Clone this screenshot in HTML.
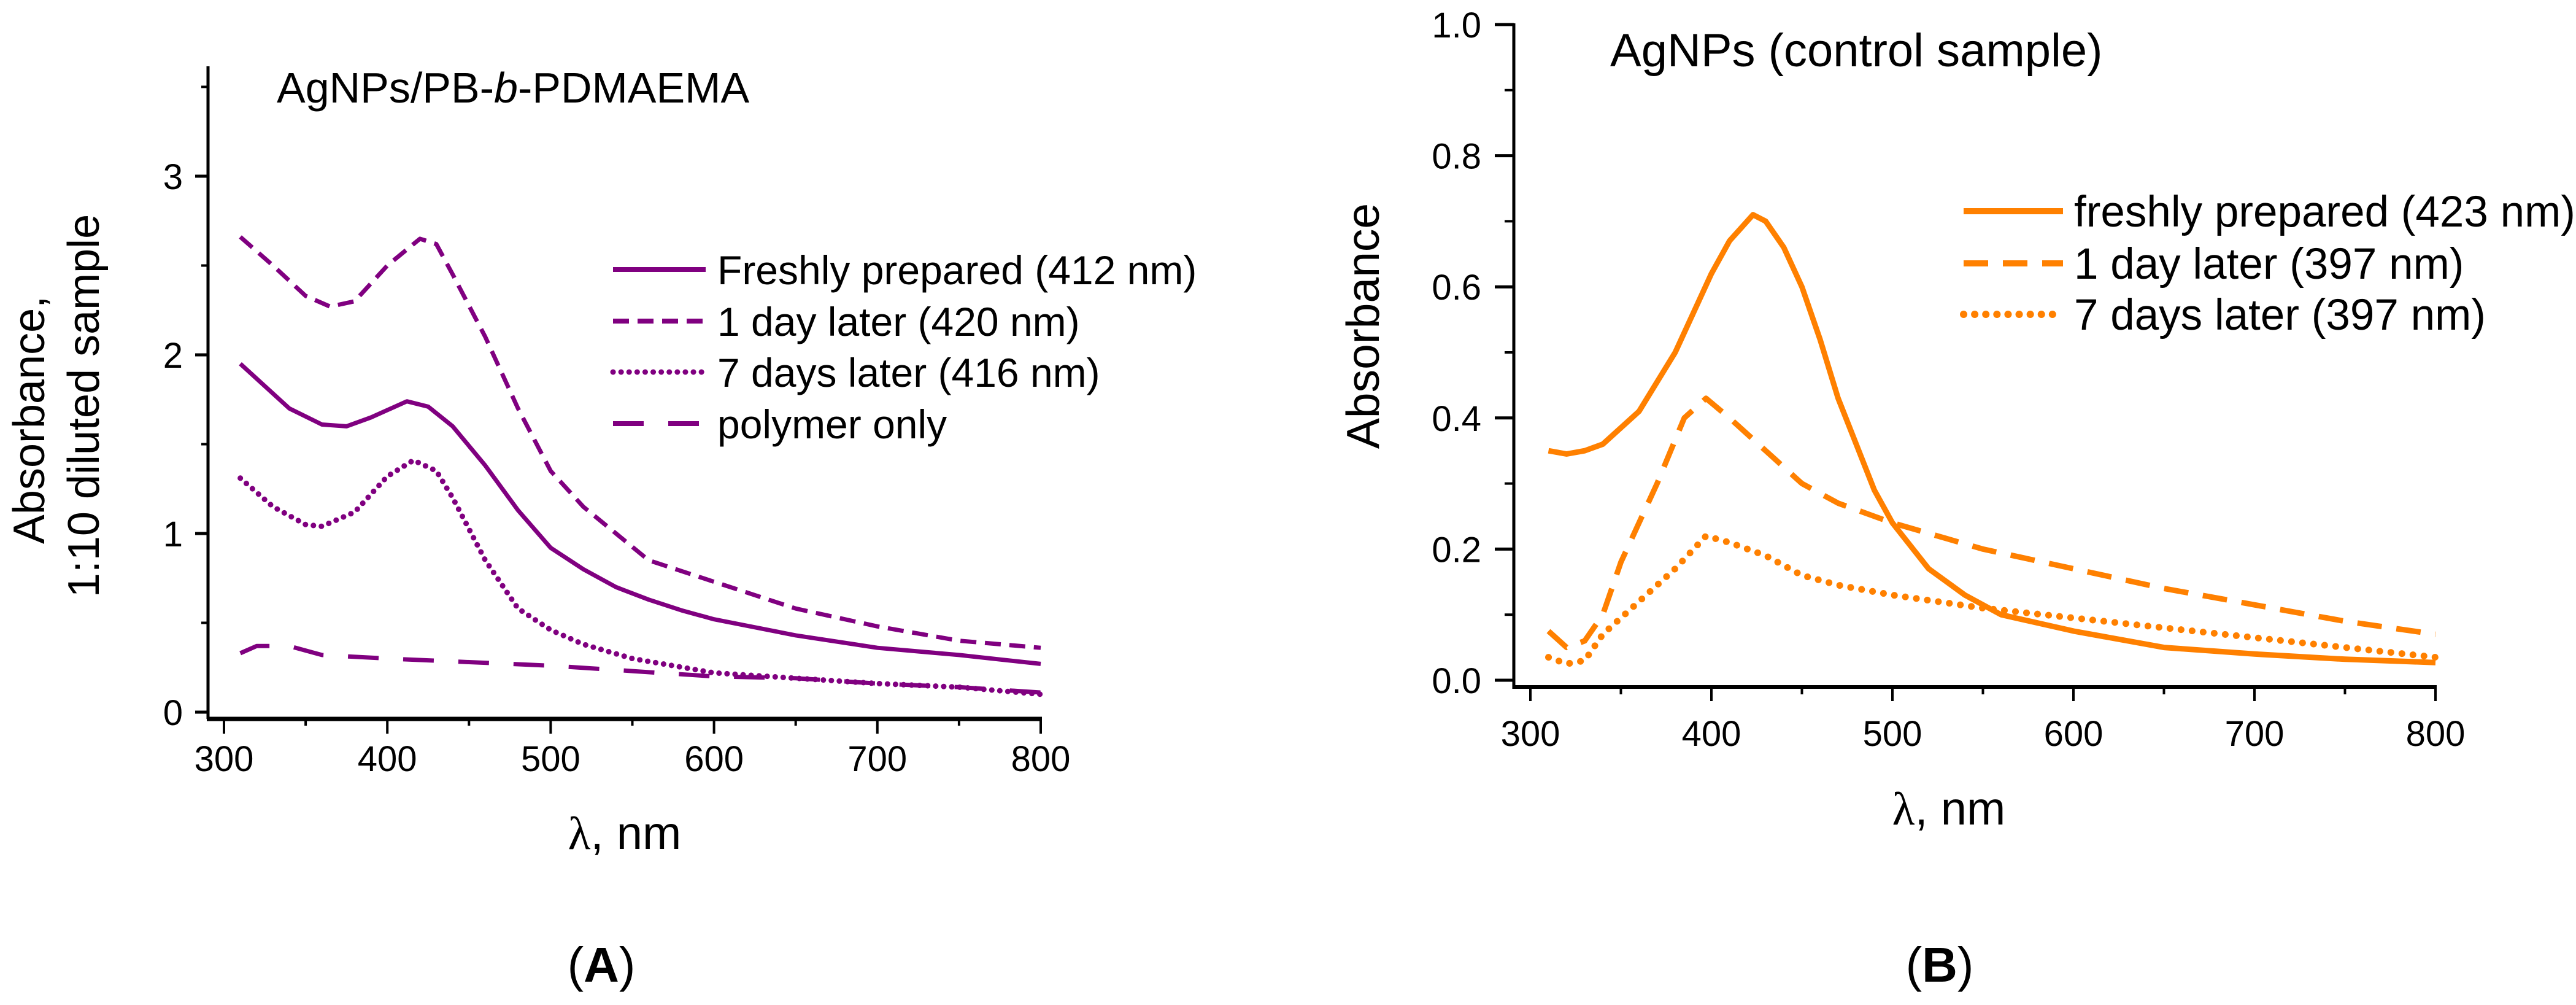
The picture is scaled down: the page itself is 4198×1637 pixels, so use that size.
<!DOCTYPE html>
<html><head><meta charset="utf-8"><style>
html,body{margin:0;padding:0;background:#fff;}
svg{display:block;}
text{font-family:"Liberation Sans",Arial,sans-serif;fill:#000;}
</style></head><body>
<svg id="fig" xmlns="http://www.w3.org/2000/svg" width="4198" height="1637" viewBox="0 0 4198 1637">
<g id="panelA"></g>
<g id="panelB"></g>
</svg>
<script>
// ---- Panel A data ----
const aXTicks = [300,400,500,600,700,800];
const aYTicks = [0,1,2,3];
const aFreshX = [310,340,360,375,390,412,425,440,460,480,500,520,540,560,580,600,650,700,750,800];
const aFreshY = [1.95,1.7,1.61,1.6,1.65,1.74,1.71,1.6,1.38,1.13,0.92,0.8,0.7,0.63,0.57,0.52,0.43,0.36,0.32,0.27];
const aDay1X = [310,330,350,365,380,400,420,430,440,460,480,500,520,540,560,600,650,700,750,800];
const aDay1Y = [2.66,2.5,2.33,2.27,2.3,2.5,2.65,2.62,2.45,2.1,1.7,1.35,1.15,1.0,0.85,0.73,0.58,0.48,0.4,0.36];
const aDay7X = [310,330,350,360,380,400,416,430,440,460,480,500,520,550,600,650,700,750,800];
const aDay7Y = [1.31,1.15,1.05,1.04,1.12,1.32,1.41,1.35,1.2,0.85,0.58,0.46,0.38,0.3,0.22,0.19,0.16,0.14,0.1];
const aPolyX = [310,320,340,360,400,450,500,550,600,650,700,750,800];
const aPolyY = [0.33,0.37,0.37,0.32,0.3,0.28,0.26,0.23,0.2,0.19,0.16,0.14,0.11];
const aLegend = ["Freshly prepared (412 nm)","1 day later (420 nm)","7 days later (416 nm)","polymer only"];
// ---- Panel B data ----
const bXTicks = [300,400,500,600,700,800];
const bYTicks = [0,0.2,0.4,0.6,0.8,1.0];
const bYLabels = ["0.0","0.2","0.4","0.6","0.8","1.0"];
const bFreshX = [310,320,330,340,360,380,400,410,423,430,440,450,460,470,480,490,500,520,540,560,600,650,700,750,800];
const bFreshY = [0.35,0.345,0.35,0.36,0.41,0.5,0.62,0.67,0.71,0.7,0.66,0.6,0.52,0.43,0.36,0.29,0.24,0.17,0.13,0.1,0.075,0.05,0.04,0.032,0.027];
const bDay1X = [310,320,330,340,350,370,385,397,410,430,450,470,500,550,600,650,700,750,800];
const bDay1Y = [0.075,0.05,0.06,0.1,0.18,0.3,0.4,0.43,0.4,0.35,0.3,0.27,0.24,0.2,0.17,0.14,0.115,0.09,0.07];
const bDay7X = [310,320,330,340,360,380,397,410,430,450,470,500,550,600,650,700,750,800];
const bDay7Y = [0.035,0.025,0.03,0.07,0.12,0.17,0.22,0.21,0.19,0.16,0.145,0.13,0.11,0.095,0.08,0.065,0.05,0.035];
const bLegend = ["freshly prepared (423 nm)","1 day later (397 nm)","7 days later (397 nm)"];

const NS="http://www.w3.org/2000/svg";
function mk(tag,attrs,parent){const e=document.createElementNS(NS,tag);for(const k in attrs)e.setAttribute(k,attrs[k]);parent.appendChild(e);return e;}
function path(xs,ys,sx,sy){return xs.map((x,i)=>(i?'L':'M')+sx(x).toFixed(1)+','+sy(ys[i]).toFixed(1)).join(' ');}

// ---------- Panel A ----------
(function(){
const g=document.getElementById('panelA');
const sx=v=>365+(v-300)/500*(1696-365);
const sy=v=>1160-v/3*(1160-287);
const PUR="#800080";
let e;
e=mk('line',{x1:339,y1:108,x2:339,y2:1171,stroke:'#000','stroke-width':5},g);


e=mk('line',{x1:337,y1:1171,x2:1698,y2:1171,stroke:'#000','stroke-width':7},g);


aXTicks.forEach(v=>{
  const t=mk('line',{x1:sx(v),y1:1171,x2:sx(v),y2:1195,stroke:'#000','stroke-width':4},g);
  
  
  const l=mk('text',{x:sx(v),y:1256,'font-size':58,'text-anchor':'middle'},g);l.textContent=v;
  
  
});
for(let v=350;v<800;v+=100){const t=mk('line',{x1:sx(v),y1:1171,x2:sx(v),y2:1182,stroke:'#000','stroke-width':4},g);
  
  }
aYTicks.forEach(v=>{
  const t=mk('line',{x1:318,y1:sy(v),x2:339,y2:sy(v),stroke:'#000','stroke-width':5},g);
  
  
  const l=mk('text',{x:298,y:sy(v)+21,'font-size':58,'text-anchor':'end'},g);l.textContent=v;
  
  
});
for(let v=0.5;v<3.6;v+=1){const t=mk('line',{x1:328,y1:sy(v),x2:339,y2:sy(v),stroke:'#000','stroke-width':4},g);
  
  }
const styles=[{da:'none',cap:'butt'},{da:'26 14',cap:'butt'},{da:'0.1 13',cap:'round'},{da:'50 40',cap:'butt'}];
const sets=[[aFreshX,aFreshY],[aDay1X,aDay1Y],[aDay7X,aDay7Y],[aPolyX,aPolyY]];
const names=['series-fresh-a','series-1day-a','series-7days-a','series-polymer-a'];
sets.forEach((s,i)=>{
  const p=mk('path',{d:path(s[0],s[1],sx,sy),fill:'none',stroke:PUR,'stroke-width':i==2?9:7,'stroke-dasharray':styles[i].da,'stroke-linecap':styles[i].cap,'stroke-linejoin':'round'},g);
  
  
});
const ly=[439,523,606,690];
aLegend.forEach((txt,i)=>{
  const gg=mk('g',{},g);
  
  
  mk('line',{x1:999,y1:ly[i],x2:1150,y2:ly[i],stroke:PUR,'stroke-width':i==2?9:8,'stroke-dasharray':styles[i].da,'stroke-linecap':styles[i].cap},gg);
  const t=mk('text',{x:1169,y:ly[i]+24,'font-size':66},gg);t.textContent=txt;
});
e=mk('text',{x:451,y:167,'font-size':70},g);
e.innerHTML='AgNPs/PB-<tspan font-style="italic">b</tspan>-PDMAEMA';


e=mk('text',{x:0,y:0,'font-size':72,'text-anchor':'middle',transform:'translate(72,684) rotate(-90)'},g);e.textContent='Absorbance,';


e=mk('text',{x:0,y:0,'font-size':72,'text-anchor':'middle',transform:'translate(161,661) rotate(-90)'},g);e.textContent='1:10 diluted sample';


e=mk('text',{x:1018,y:1383,'font-size':76,'text-anchor':'middle'},g);
e.innerHTML='<tspan font-family="Liberation Serif, serif">λ</tspan>, nm';


e=mk('text',{x:980,y:1599,'font-size':80,'text-anchor':'middle','font-family':'Liberation Serif, serif'},g);
e.innerHTML='(<tspan font-weight="bold">A</tspan>)';


})();

// ---------- Panel B ----------
(function(){
const g=document.getElementById('panelB');
const sx=v=>2494+(v-300)/500*(3969-2494);
const sy=v=>1108-v*(1108-40);
const OR="#ff8000";
let e;
e=mk('line',{x1:2467,y1:38,x2:2467,y2:1122,stroke:'#000','stroke-width':5},g);


e=mk('line',{x1:2465,y1:1119,x2:3971,y2:1119,stroke:'#000','stroke-width':6},g);


bXTicks.forEach(v=>{
  const t=mk('line',{x1:sx(v),y1:1119,x2:sx(v),y2:1142,stroke:'#000','stroke-width':4},g);
  
  
  const l=mk('text',{x:sx(v),y:1215,'font-size':58,'text-anchor':'middle'},g);l.textContent=v;
  
  
});
for(let v=350;v<800;v+=100){const t=mk('line',{x1:sx(v),y1:1119,x2:sx(v),y2:1131,stroke:'#000','stroke-width':4},g);
  
  }
bYTicks.forEach((v,i)=>{
  const t=mk('line',{x1:2436,y1:sy(v),x2:2467,y2:sy(v),stroke:'#000','stroke-width':5},g);
  
  
  const l=mk('text',{x:2414,y:sy(v)+21,'font-size':58,'text-anchor':'end'},g);l.textContent=bYLabels[i];
  
  
});
for(let v=0.1;v<1;v+=0.2){const t=mk('line',{x1:2452,y1:sy(v),x2:2467,y2:sy(v),stroke:'#000','stroke-width':4},g);
  
  }
const styles=[{da:'none',cap:'butt'},{da:'40 24',cap:'butt'},{da:'0.1 18',cap:'round'}];
const sets=[[bFreshX,bFreshY],[bDay1X,bDay1Y],[bDay7X,bDay7Y]];
const names=['series-fresh-b','series-1day-b','series-7days-b'];
sets.forEach((s,i)=>{
  const p=mk('path',{d:path(s[0],s[1],sx,sy),fill:'none',stroke:OR,'stroke-width':i==2?11:9,'stroke-dasharray':styles[i].da,'stroke-linecap':styles[i].cap,'stroke-linejoin':'round'},g);
  
  
});
const ly=[344,429,512];
bLegend.forEach((txt,i)=>{
  const gg=mk('g',{},g);
  
  
  mk('line',{x1:3200,y1:ly[i],x2:3362,y2:ly[i],stroke:OR,'stroke-width':i==2?12:10,'stroke-dasharray':styles[i].da,'stroke-linecap':styles[i].cap},gg);
  const t=mk('text',{x:3380,y:ly[i]+25,'font-size':71},gg);t.textContent=txt;
});
e=mk('text',{x:2624,y:108,'font-size':76},g);e.textContent='AgNPs (control sample)';


e=mk('text',{x:0,y:0,'font-size':75,'text-anchor':'middle',transform:'translate(2247,531) rotate(-90)'},g);e.textContent='Absorbance';


e=mk('text',{x:3176,y:1343,'font-size':76,'text-anchor':'middle'},g);
e.innerHTML='<tspan font-family="Liberation Serif, serif">λ</tspan>, nm';


e=mk('text',{x:3161,y:1599,'font-size':80,'text-anchor':'middle','font-family':'Liberation Serif, serif'},g);
e.innerHTML='(<tspan font-weight="bold">B</tspan>)';


})();
</script>
</body></html>
